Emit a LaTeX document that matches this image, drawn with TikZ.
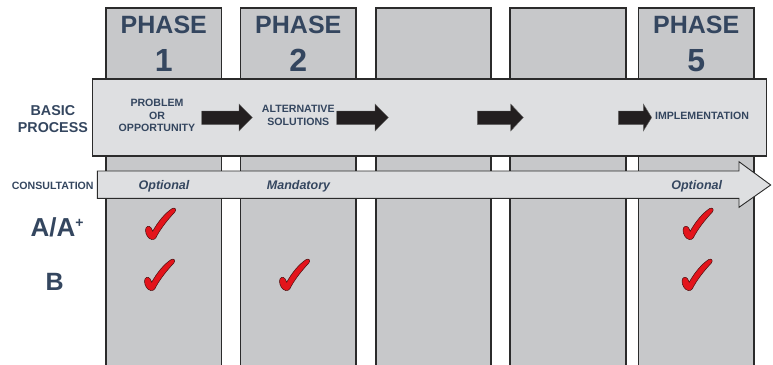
\documentclass[tikz,border=0pt]{standalone}
\usepackage{fontspec}
\setmainfont{Liberation Sans}
\definecolor{colfill}{HTML}{C7C8CA}
\definecolor{boxfill}{HTML}{DEDFE1}
\definecolor{txt}{HTML}{34465F}
\definecolor{edge}{HTML}{2B2B2B}
\definecolor{arrowblk}{HTML}{231F20}
\definecolor{tickred}{HTML}{E3141B}
\definecolor{tickedge}{HTML}{4A1010}
\newcommand\blkarrow[3]{\draw[blkarrow] (#1,111) -- (#2,111) -- (#2,104) -- (#3,117.5) -- (#2,131) -- (#2,124.5) -- (#1,124.5) -- cycle;}
\begin{document}
\begin{tikzpicture}[x=1pt,y=-1pt,
  phasecol/.style={fill=colfill,draw=edge,line width=1.1pt},
  procbox/.style={fill=boxfill,draw=edge,line width=1.1pt},
  consarrow/.style={fill=boxfill,draw=edge,line width=0.9pt,line join=miter},
  blkarrow/.style={fill=arrowblk,draw=black!60,line width=0.4pt},
  lbl/.style={text=txt,font=\bfseries,inner sep=0pt,anchor=base},
  phasetxt/.style={lbl,font=\fontsize{25}{30}\selectfont\bfseries},
  phasenum/.style={lbl,font=\fontsize{32}{36}\selectfont\bfseries},
  smalltxt/.style={lbl,font=\fontsize{10.6}{12.5}\selectfont\bfseries},
  sidetxt/.style={lbl,font=\fontsize{14.3}{17}\selectfont\bfseries},
  itxt/.style={lbl,font=\fontsize{12.5}{15}\selectfont\bfseries\itshape},
  grade/.style={lbl,font=\fontsize{26}{30}\selectfont\bfseries},
  tick/.pic={
    \begin{scope}[yscale=-1.1,xscale=1.03]
      \filldraw[fill=tickred,draw=tickedge,line width=0.5pt]
        (6,0) .. controls (2.5,0.5) and (0,5) .. (0,8.5)
        .. controls (0,12) and (3.5,13.5) .. (5.5,10.5) -- (7,7.5)
        .. controls (12,16) and (19,24) .. (26,28.2)
        .. controls (28.5,29.3) and (30.5,27.5) .. (28.5,25)
        .. controls (20.5,17) and (14,9) .. (10,1.5)
        .. controls (9,0) and (7.5,-0.2) .. (6,0) -- cycle;
    \end{scope}
  }]
\useasboundingbox (0,0) rectangle (773,364);
\clip (0,0) rectangle (773,364);
% phase columns
\path[phasecol] (106,8) rectangle (221.7,380);
\path[phasecol] (240.7,8) rectangle (356,380);
\path[phasecol] (376,8) rectangle (491,380);
\path[phasecol] (510,8) rectangle (626,380);
\path[phasecol] (638.3,8) rectangle (754,380);
% basic process box
\path[procbox] (92.7,79) rectangle (766.7,156);
% consultation arrow
\path[consarrow] (97.3,171) -- (739,171) -- (739,161.7) -- (770.7,185)
  -- (739,207.3) -- (739,198.3) -- (97.3,198.3) -- cycle;
% black process arrows
\blkarrow{201.7}{239}{252.3}
\blkarrow{336.7}{375}{388.3}
\blkarrow{477.3}{510.7}{523.3}
\blkarrow{618.3}{643.3}{651.7}
% phase headings
\node[phasetxt] (p1) at (163.8,33) {PHASE};
\node[phasenum] (n1) at (163.8,71.5) {1};
\node[phasetxt] (p2) at (298.3,33) {PHASE};
\node[phasenum] (n2) at (298.3,71.5) {2};
\node[phasetxt] (p5) at (696.2,33) {PHASE};
\node[phasenum] (n5) at (696.2,71.5) {5};
% side labels
\node[sidetxt] (basic) at (52.9,115) {BASIC};
\node[sidetxt] (process) at (52.9,132.7) {PROCESS};
\node[smalltxt] (cons) at (52.7,189.3) {CONSULTATION};
\node[grade,anchor=base west] (aa) at (30.5,236.7) {A/A\raisebox{9.5pt}{\fontsize{14}{14}\selectfont +}};
\node[grade,font=\fontsize{25}{30}\selectfont\bfseries] (b) at (54.7,290.7) {B};
% process step texts
\node[smalltxt] (s1a) at (157,106.7) {PROBLEM};
\node[smalltxt] (s1b) at (157,119) {OR};
\node[smalltxt] (s1c) at (157,131.3) {OPPORTUNITY};
\node[smalltxt] (s2a) at (298.3,112.3) {ALTERNATIVE};
\node[smalltxt] (s2b) at (298.3,125) {SOLUTIONS};
\node[smalltxt] (s5) at (702,119.3) {IMPLEMENTATION};
% consultation texts
\node[itxt] (c1) at (164,189.5) {Optional};
\node[itxt] (c2) at (298.5,189.5) {Mandatory};
\node[itxt] (c5) at (696.7,189.5) {Optional};
% ticks
\pic (t1) at (145.5,239.5) {tick};
\pic (t2) at (144.5,290.5) {tick};
\pic (t3) at (279.5,290.5) {tick};
\pic (t4) at (683,239.5) {tick};
\pic (t5) at (682,290.5) {tick};
\end{tikzpicture}
\end{document}
